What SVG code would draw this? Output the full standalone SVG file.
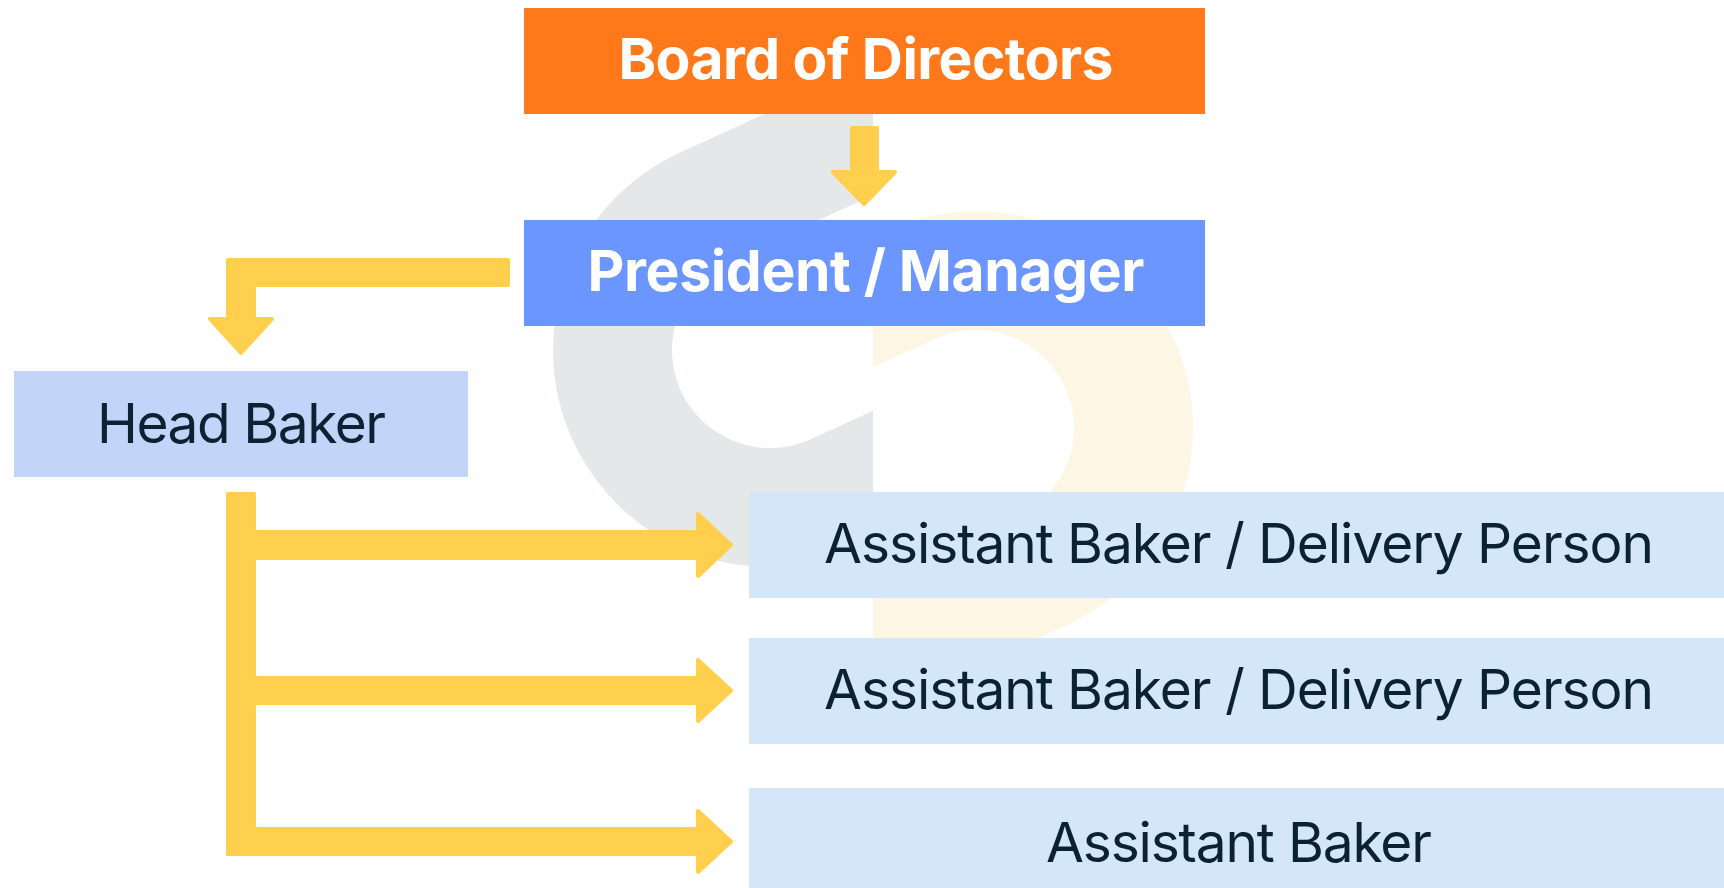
<svg xmlns="http://www.w3.org/2000/svg" xmlns:xlink="http://www.w3.org/1999/xlink" width="1724" height="888" viewBox="0 0 1724 888">
  <style>
    .bg { fill: #ffffff; }
    .wm-gray { fill: #e4e8e9; }
    .wm-cream { fill: #fef6e5; }
    .arrow { fill: #ffcf4d; stroke: #ffcf4d; stroke-width: 4; stroke-linejoin: round; }
    .box-orange { fill: #ff7819; }
    .box-blue { fill: #6b96ff; }
    .box-mid { fill: #c2d5f9; }
    .box-light { fill: #d4e6fa; }
    .label-bold { font-family: Inter, "Noto Sans", "Liberation Sans", sans-serif; font-weight: 700; font-size: 57px; fill: #ffffff; text-anchor: middle; }
    .label { font-family: Inter, "Noto Sans", "Liberation Sans", sans-serif; font-weight: 400; font-size: 55px; fill: #0b2233; text-anchor: middle; }
  </style>
  <defs>
    <!-- one half of the link mark: a stadium ring open to the right -->
    <path id="link-half" fill-rule="evenodd"
          d="M 400,-217 L 0,-217 A 217 217 0 0 0 0,217 L 400,217 Z
             M 400,-98 L 0,-98 A 98 98 0 0 0 0,98 L 400,98 Z"/>
    <clipPath id="clip-left" clipPathUnits="userSpaceOnUse">
      <rect x="0" y="0" width="873" height="888"/>
    </clipPath>
    <clipPath id="clip-right" clipPathUnits="userSpaceOnUse">
      <rect x="873" y="0" width="851" height="888"/>
    </clipPath>
  </defs>

  <rect class="bg" x="0" y="0" width="1724" height="888"/>

  <!-- background watermark -->
  <g id="watermark">
    <g clip-path="url(#clip-left)">
      <use xlink:href="#link-half" class="wm-gray" transform="translate(770,350) rotate(-24.5)"/>
    </g>
    <g clip-path="url(#clip-right)">
      <use xlink:href="#link-half" class="wm-cream" transform="translate(976,428) rotate(155.5)"/>
    </g>
  </g>

  <!-- connectors -->
  <g id="connectors">
    <path id="board-to-president" class="arrow"
          d="M 852,128 L 877,128 L 877,172 L 895,172 L 864,204 L 833,172 L 852,172 Z"/>
    <path id="president-to-head" class="arrow"
          d="M 508,260 L 508,285 L 254,285 L 254,319 L 272,319 L 241,353 L 210,319 L 228,319 L 228,260 Z"/>
    <path id="head-to-assistants" class="arrow"
          d="M 228,494 L 254,494 L 254,532 L 698,532 L 698,514 L 731,545 L 698,576 L 698,558 L 254,558
             L 254,678 L 698,678 L 698,660 L 731,690.5 L 698,721 L 698,703 L 254,703
             L 254,829 L 698,829 L 698,811 L 731,841.5 L 698,872 L 698,854 L 228,854 Z"/>
  </g>

  <!-- nodes -->
  <g id="board">
    <rect class="box-orange" x="524" y="8" width="681" height="106"/>
    <text class="label-bold" x="866" y="79" textLength="495">Board of Directors</text>
  </g>

  <g id="president">
    <rect class="box-blue" x="524" y="220" width="681" height="106"/>
    <text class="label-bold" x="866" y="291" textLength="557">President / Manager</text>
  </g>

  <g id="head-baker">
    <rect class="box-mid" x="14" y="371" width="454" height="106"/>
    <text class="label" x="241.5" y="443" textLength="289">Head Baker</text>
  </g>

  <g id="assistant-delivery-1">
    <rect class="box-light" x="749" y="492" width="975" height="106"/>
    <text class="label" x="1239" y="563" textLength="830">Assistant Baker / Delivery Person</text>
  </g>

  <g id="assistant-delivery-2">
    <rect class="box-light" x="749" y="638" width="975" height="106"/>
    <text class="label" x="1239" y="709" textLength="830">Assistant Baker / Delivery Person</text>
  </g>

  <g id="assistant">
    <rect class="box-light" x="749" y="788" width="975" height="100"/>
    <text class="label" x="1239" y="862" textLength="386">Assistant Baker</text>
  </g>
</svg>
